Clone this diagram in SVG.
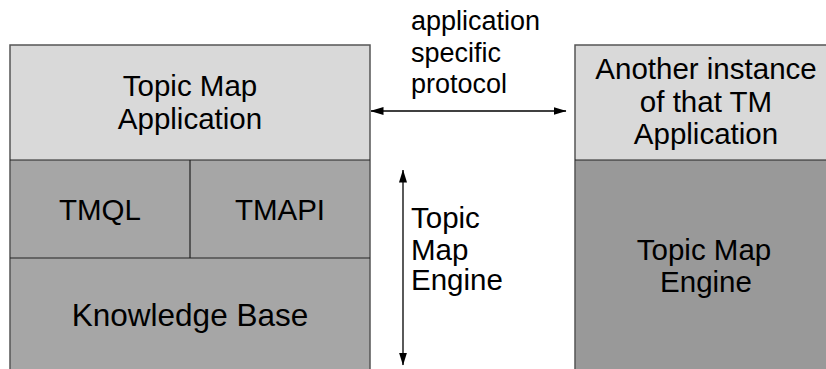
<svg xmlns="http://www.w3.org/2000/svg" width="826" height="369" viewBox="0 0 826 369">
<defs>
<style>
text{font-family:"Liberation Sans",Arial,sans-serif;fill:#000;}
.c{text-anchor:middle;font-size:29.5px;}
.l{font-size:29.5px;}
.s{font-size:27px;}
.light{fill:#d9d9d9;}
.dark{fill:#a6a6a6;}
.dark2{fill:#999999;}
.edge{stroke:#555;stroke-width:1.5;}
.div{stroke:#222;stroke-width:1.2;fill:none;}
.conn{stroke:#000;stroke-width:1.3;fill:none;}
</style>
<marker id="ah" viewBox="0 0 13 8" refX="12.5" refY="4" markerWidth="13" markerHeight="8" markerUnits="userSpaceOnUse" orient="auto-start-reverse">
<path d="M0,0 L13,4 L0,8 Z" fill="#000"/>
</marker>
</defs>
<g id="app">
<rect class="light" x="10" y="45" width="360" height="115"/>
<text class="c" x="190" y="96">Topic Map</text>
<text class="c" x="190" y="128.5">Application</text>
</g>
<g id="tmql">
<rect class="dark" x="10" y="160" width="180" height="98"/>
<text class="c" x="100" y="219.5">TMQL</text>
</g>
<g id="tmapi">
<rect class="dark" x="190" y="160" width="180" height="98"/>
<text class="c" x="280" y="219.5">TMAPI</text>
</g>
<g id="kb">
<rect class="dark" x="10" y="258" width="360" height="115"/>
<text class="c" x="190" y="326" style="font-size:31.5px">Knowledge Base</text>
</g>
<g id="left-frame">
<path class="edge" d="M10,373 V45 H370 V373" fill="none"/>
<path class="div" d="M10,160 H370 M190,160 V258 M10,258 H370"/>
</g>
<g id="other-app">
<rect class="light" x="575" y="45" width="262" height="115"/>
<text class="c" x="706" y="78.5">Another instance</text>
<text class="c" x="706" y="111.5">of that TM</text>
<text class="c" x="706" y="144">Application</text>
</g>
<g id="other-engine">
<rect class="dark2" x="575" y="160" width="262" height="213"/>
<text class="c" x="704" y="260">Topic Map</text>
<text class="c" x="706" y="292">Engine</text>
</g>
<g id="right-frame">
<path class="edge" d="M575,373 V45 H837" fill="none"/>
<path class="div" d="M575,160 H837"/>
</g>
<g id="connectors">
<line class="conn" x1="371" y1="111" x2="566" y2="111" marker-start="url(#ah)" marker-end="url(#ah)"/>
<line class="conn" x1="403" y1="170" x2="403" y2="365" marker-start="url(#ah)" marker-end="url(#ah)"/>
</g>
<g id="labels">
<text class="s" x="411" y="30">application</text>
<text class="s" x="411" y="62">specific</text>
<text class="s" x="411" y="93">protocol</text>
<text class="l" x="411" y="227.5">Topic</text>
<text class="l" x="411" y="260">Map</text>
<text class="l" x="411" y="290">Engine</text>
</g>
</svg>
